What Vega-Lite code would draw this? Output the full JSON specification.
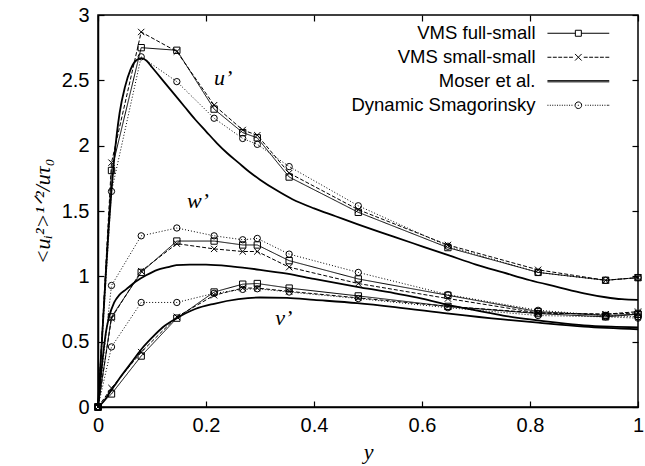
{
  "$schema": "https://vega.github.io/schema/vega-lite/v6.json",
  "autosize": {"type": "none"},
  "width": 540,
  "height": 392,
  "padding": {"left": 98, "top": 15, "right": 7, "bottom": 59},
  "background": "white",
  "config": {
    "view": {"stroke": "black", "strokeWidth": 1.5},
    "axis": {
      "domainColor": "black", "domainWidth": 1.5,
      "tickColor": "black", "tickWidth": 1.2, "tickSize": -6,
      "labelFont": "Liberation Sans", "labelFontSize": 20, "labelColor": "black",
      "grid": false,
      "titleFont": "Liberation Serif", "titleFontStyle": "italic", "titleFontWeight": "normal",
      "titleFontSize": 22, "titleColor": "black"
    }
  },
  "datasets": {
    "sim": [
      {"s":"VMS full-small","c":"u","y":0,"v":0},{"s":"VMS full-small","c":"u","y":0.025,"v":1.81},{"s":"VMS full-small","c":"u","y":0.08,"v":2.75},{"s":"VMS full-small","c":"u","y":0.146,"v":2.73},{"s":"VMS full-small","c":"u","y":0.215,"v":2.28},{"s":"VMS full-small","c":"u","y":0.268,"v":2.10},{"s":"VMS full-small","c":"u","y":0.295,"v":2.06},{"s":"VMS full-small","c":"u","y":0.354,"v":1.76},{"s":"VMS full-small","c":"u","y":0.482,"v":1.49},{"s":"VMS full-small","c":"u","y":0.648,"v":1.22},{"s":"VMS full-small","c":"u","y":0.815,"v":1.03},{"s":"VMS full-small","c":"u","y":0.94,"v":0.97},{"s":"VMS full-small","c":"u","y":1.0,"v":0.99},
      {"s":"VMS full-small","c":"w","y":0,"v":0},{"s":"VMS full-small","c":"w","y":0.025,"v":0.69},{"s":"VMS full-small","c":"w","y":0.08,"v":1.03},{"s":"VMS full-small","c":"w","y":0.146,"v":1.27},{"s":"VMS full-small","c":"w","y":0.215,"v":1.27},{"s":"VMS full-small","c":"w","y":0.268,"v":1.24},{"s":"VMS full-small","c":"w","y":0.295,"v":1.24},{"s":"VMS full-small","c":"w","y":0.354,"v":1.12},{"s":"VMS full-small","c":"w","y":0.482,"v":0.98},{"s":"VMS full-small","c":"w","y":0.648,"v":0.855},{"s":"VMS full-small","c":"w","y":0.815,"v":0.73},{"s":"VMS full-small","c":"w","y":0.94,"v":0.70},{"s":"VMS full-small","c":"w","y":1.0,"v":0.71},
      {"s":"VMS full-small","c":"v","y":0,"v":0},{"s":"VMS full-small","c":"v","y":0.025,"v":0.10},{"s":"VMS full-small","c":"v","y":0.08,"v":0.39},{"s":"VMS full-small","c":"v","y":0.146,"v":0.68},{"s":"VMS full-small","c":"v","y":0.215,"v":0.88},{"s":"VMS full-small","c":"v","y":0.268,"v":0.94},{"s":"VMS full-small","c":"v","y":0.295,"v":0.945},{"s":"VMS full-small","c":"v","y":0.354,"v":0.91},{"s":"VMS full-small","c":"v","y":0.482,"v":0.85},{"s":"VMS full-small","c":"v","y":0.648,"v":0.77},{"s":"VMS full-small","c":"v","y":0.815,"v":0.715},{"s":"VMS full-small","c":"v","y":0.94,"v":0.69},{"s":"VMS full-small","c":"v","y":1.0,"v":0.71},
      {"s":"VMS small-small","c":"u","y":0,"v":0},{"s":"VMS small-small","c":"u","y":0.025,"v":1.87},{"s":"VMS small-small","c":"u","y":0.08,"v":2.87},{"s":"VMS small-small","c":"u","y":0.146,"v":2.72},{"s":"VMS small-small","c":"u","y":0.215,"v":2.31},{"s":"VMS small-small","c":"u","y":0.268,"v":2.12},{"s":"VMS small-small","c":"u","y":0.295,"v":2.08},{"s":"VMS small-small","c":"u","y":0.354,"v":1.79},{"s":"VMS small-small","c":"u","y":0.482,"v":1.51},{"s":"VMS small-small","c":"u","y":0.648,"v":1.24},{"s":"VMS small-small","c":"u","y":0.815,"v":1.05},{"s":"VMS small-small","c":"u","y":0.94,"v":0.97},{"s":"VMS small-small","c":"u","y":1.0,"v":0.99},
      {"s":"VMS small-small","c":"w","y":0,"v":0},{"s":"VMS small-small","c":"w","y":0.025,"v":0.68},{"s":"VMS small-small","c":"w","y":0.08,"v":1.04},{"s":"VMS small-small","c":"w","y":0.146,"v":1.25},{"s":"VMS small-small","c":"w","y":0.215,"v":1.21},{"s":"VMS small-small","c":"w","y":0.268,"v":1.19},{"s":"VMS small-small","c":"w","y":0.295,"v":1.19},{"s":"VMS small-small","c":"w","y":0.354,"v":1.07},{"s":"VMS small-small","c":"w","y":0.482,"v":0.945},{"s":"VMS small-small","c":"w","y":0.648,"v":0.83},{"s":"VMS small-small","c":"w","y":0.815,"v":0.72},{"s":"VMS small-small","c":"w","y":0.94,"v":0.71},{"s":"VMS small-small","c":"w","y":1.0,"v":0.72},
      {"s":"VMS small-small","c":"v","y":0,"v":0},{"s":"VMS small-small","c":"v","y":0.025,"v":0.145},{"s":"VMS small-small","c":"v","y":0.08,"v":0.42},{"s":"VMS small-small","c":"v","y":0.146,"v":0.69},{"s":"VMS small-small","c":"v","y":0.215,"v":0.855},{"s":"VMS small-small","c":"v","y":0.268,"v":0.91},{"s":"VMS small-small","c":"v","y":0.295,"v":0.91},{"s":"VMS small-small","c":"v","y":0.354,"v":0.885},{"s":"VMS small-small","c":"v","y":0.482,"v":0.835},{"s":"VMS small-small","c":"v","y":0.648,"v":0.77},{"s":"VMS small-small","c":"v","y":0.815,"v":0.72},{"s":"VMS small-small","c":"v","y":0.94,"v":0.71},{"s":"VMS small-small","c":"v","y":1.0,"v":0.73},
      {"s":"Dynamic Smagorinsky","c":"u","y":0,"v":0},{"s":"Dynamic Smagorinsky","c":"u","y":0.025,"v":1.65},{"s":"Dynamic Smagorinsky","c":"u","y":0.08,"v":2.68},{"s":"Dynamic Smagorinsky","c":"u","y":0.146,"v":2.49},{"s":"Dynamic Smagorinsky","c":"u","y":0.215,"v":2.21},{"s":"Dynamic Smagorinsky","c":"u","y":0.268,"v":2.055},{"s":"Dynamic Smagorinsky","c":"u","y":0.295,"v":2.01},{"s":"Dynamic Smagorinsky","c":"u","y":0.354,"v":1.84},{"s":"Dynamic Smagorinsky","c":"u","y":0.482,"v":1.54},{"s":"Dynamic Smagorinsky","c":"u","y":0.648,"v":1.23},{"s":"Dynamic Smagorinsky","c":"u","y":0.815,"v":1.03},{"s":"Dynamic Smagorinsky","c":"u","y":0.94,"v":0.97},{"s":"Dynamic Smagorinsky","c":"u","y":1.0,"v":0.99},
      {"s":"Dynamic Smagorinsky","c":"w","y":0,"v":0},{"s":"Dynamic Smagorinsky","c":"w","y":0.025,"v":0.93},{"s":"Dynamic Smagorinsky","c":"w","y":0.08,"v":1.31},{"s":"Dynamic Smagorinsky","c":"w","y":0.146,"v":1.37},{"s":"Dynamic Smagorinsky","c":"w","y":0.215,"v":1.31},{"s":"Dynamic Smagorinsky","c":"w","y":0.268,"v":1.28},{"s":"Dynamic Smagorinsky","c":"w","y":0.295,"v":1.29},{"s":"Dynamic Smagorinsky","c":"w","y":0.354,"v":1.17},{"s":"Dynamic Smagorinsky","c":"w","y":0.482,"v":1.03},{"s":"Dynamic Smagorinsky","c":"w","y":0.648,"v":0.86},{"s":"Dynamic Smagorinsky","c":"w","y":0.815,"v":0.74},{"s":"Dynamic Smagorinsky","c":"w","y":0.94,"v":0.70},{"s":"Dynamic Smagorinsky","c":"w","y":1.0,"v":0.69},
      {"s":"Dynamic Smagorinsky","c":"v","y":0,"v":0},{"s":"Dynamic Smagorinsky","c":"v","y":0.025,"v":0.46},{"s":"Dynamic Smagorinsky","c":"v","y":0.08,"v":0.80},{"s":"Dynamic Smagorinsky","c":"v","y":0.146,"v":0.80},{"s":"Dynamic Smagorinsky","c":"v","y":0.215,"v":0.87},{"s":"Dynamic Smagorinsky","c":"v","y":0.268,"v":0.90},{"s":"Dynamic Smagorinsky","c":"v","y":0.295,"v":0.905},{"s":"Dynamic Smagorinsky","c":"v","y":0.354,"v":0.88},{"s":"Dynamic Smagorinsky","c":"v","y":0.482,"v":0.83},{"s":"Dynamic Smagorinsky","c":"v","y":0.648,"v":0.76},{"s":"Dynamic Smagorinsky","c":"v","y":0.815,"v":0.70},{"s":"Dynamic Smagorinsky","c":"v","y":0.94,"v":0.69},{"s":"Dynamic Smagorinsky","c":"v","y":1.0,"v":0.68}
    ],
    "moser": [
      {"c":"u","y":0,"v":0},{"c":"u","y":0.005,"v":0.35},{"c":"u","y":0.01,"v":0.7},{"c":"u","y":0.015,"v":1.05},{"c":"u","y":0.02,"v":1.38},{"c":"u","y":0.025,"v":1.66},{"c":"u","y":0.03,"v":1.9},{"c":"u","y":0.04,"v":2.25},{"c":"u","y":0.05,"v":2.45},{"c":"u","y":0.06,"v":2.58},{"c":"u","y":0.07,"v":2.65},{"c":"u","y":0.08,"v":2.67},{"c":"u","y":0.09,"v":2.65},{"c":"u","y":0.1,"v":2.6},{"c":"u","y":0.12,"v":2.5},{"c":"u","y":0.14,"v":2.4},{"c":"u","y":0.16,"v":2.3},{"c":"u","y":0.18,"v":2.2},{"c":"u","y":0.2,"v":2.11},{"c":"u","y":0.22,"v":2.02},{"c":"u","y":0.24,"v":1.94},{"c":"u","y":0.26,"v":1.87},{"c":"u","y":0.28,"v":1.8},{"c":"u","y":0.3,"v":1.74},{"c":"u","y":0.33,"v":1.66},{"c":"u","y":0.36,"v":1.59},{"c":"u","y":0.4,"v":1.52},{"c":"u","y":0.44,"v":1.46},{"c":"u","y":0.48,"v":1.4},{"c":"u","y":0.55,"v":1.3},{"c":"u","y":0.6,"v":1.23},{"c":"u","y":0.65,"v":1.16},{"c":"u","y":0.7,"v":1.09},{"c":"u","y":0.75,"v":1.03},{"c":"u","y":0.8,"v":0.97},{"c":"u","y":0.85,"v":0.92},{"c":"u","y":0.9,"v":0.87},{"c":"u","y":0.94,"v":0.84},{"c":"u","y":0.97,"v":0.825},{"c":"u","y":1.0,"v":0.82},
      {"c":"w","y":0,"v":0},{"c":"w","y":0.005,"v":0.22},{"c":"w","y":0.01,"v":0.42},{"c":"w","y":0.015,"v":0.58},{"c":"w","y":0.02,"v":0.68},{"c":"w","y":0.03,"v":0.8},{"c":"w","y":0.04,"v":0.86},{"c":"w","y":0.052,"v":0.9},{"c":"w","y":0.07,"v":0.96},{"c":"w","y":0.09,"v":1.01},{"c":"w","y":0.11,"v":1.05},{"c":"w","y":0.13,"v":1.07},{"c":"w","y":0.145,"v":1.085},{"c":"w","y":0.17,"v":1.09},{"c":"w","y":0.2,"v":1.09},{"c":"w","y":0.25,"v":1.075},{"c":"w","y":0.3,"v":1.05},{"c":"w","y":0.35,"v":1.02},{"c":"w","y":0.4,"v":0.98},{"c":"w","y":0.48,"v":0.92},{"c":"w","y":0.55,"v":0.87},{"c":"w","y":0.6,"v":0.83},{"c":"w","y":0.65,"v":0.78},{"c":"w","y":0.7,"v":0.74},{"c":"w","y":0.75,"v":0.7},{"c":"w","y":0.8,"v":0.67},{"c":"w","y":0.85,"v":0.645},{"c":"w","y":0.9,"v":0.625},{"c":"w","y":0.95,"v":0.615},{"c":"w","y":1.0,"v":0.61},
      {"c":"v","y":0,"v":0},{"c":"v","y":0.01,"v":0.04},{"c":"v","y":0.02,"v":0.1},{"c":"v","y":0.03,"v":0.16},{"c":"v","y":0.04,"v":0.22},{"c":"v","y":0.06,"v":0.33},{"c":"v","y":0.08,"v":0.44},{"c":"v","y":0.1,"v":0.53},{"c":"v","y":0.12,"v":0.61},{"c":"v","y":0.146,"v":0.68},{"c":"v","y":0.18,"v":0.75},{"c":"v","y":0.215,"v":0.79},{"c":"v","y":0.26,"v":0.825},{"c":"v","y":0.3,"v":0.838},{"c":"v","y":0.35,"v":0.835},{"c":"v","y":0.4,"v":0.82},{"c":"v","y":0.48,"v":0.795},{"c":"v","y":0.55,"v":0.765},{"c":"v","y":0.65,"v":0.715},{"c":"v","y":0.75,"v":0.67},{"c":"v","y":0.815,"v":0.645},{"c":"v","y":0.9,"v":0.615},{"c":"v","y":1.0,"v":0.595}
    ],
    "notes": [
      {"t":"u’","y":0.232,"v":2.52},
      {"t":"w’","y":0.185,"v":1.58},
      {"t":"v’","y":0.344,"v":0.68}
    ]
  },
  "layer": [
    {
      "data": {"name": "moser"},
      "mark": {"type": "line", "interpolate": "monotone", "color": "black", "strokeWidth": 1.8},
      "encoding": {
        "x": {"field": "y", "type": "quantitative", "scale": {"domain": [0, 1], "nice": false},
          "axis": {"orient": "bottom", "values": [0, 0.2, 0.4, 0.6, 0.8, 1], "format": "~g", "labelPadding": 14, "labelFlush": false, "title": "y", "titlePadding": 6}},
        "y": {"field": "v", "type": "quantitative", "scale": {"domain": [0, 3], "nice": false},
          "axis": {"orient": "left", "values": [0, 0.5, 1, 1.5, 2, 2.5, 3], "format": "~g", "labelPadding": 15, "labelFlush": false, "title": "<uᵢ²>¹ᐟ²/uτ₀", "titlePadding": 7}},
        "detail": {"field": "c"}
      }
    },
    {
      "data": {"name": "sim"},
      "mark": {"type": "line", "color": "black", "strokeWidth": 1},
      "encoding": {
        "x": {"field": "y", "type": "quantitative", "axis": null},
        "y": {"field": "v", "type": "quantitative", "axis": null},
        "strokeDash": {"field": "s", "type": "nominal", "legend": null,
          "scale": {"domain": ["VMS full-small", "VMS small-small", "Dynamic Smagorinsky"], "range": [[1, 0], [4, 2], [1, 2]]}},
        "detail": {"field": "c"}
      }
    },
    {
      "data": {"name": "sim"},
      "mark": {"type": "point", "filled": false, "color": "black", "strokeWidth": 1, "size": 40, "opacity": 1},
      "encoding": {
        "x": {"field": "y", "type": "quantitative", "axis": null},
        "y": {"field": "v", "type": "quantitative", "axis": null},
        "shape": {"field": "s", "type": "nominal", "legend": null,
          "scale": {"domain": ["VMS full-small", "VMS small-small", "Dynamic Smagorinsky"], "range": ["square", "M-1,-1L1,1M-1,1L1,-1", "circle"]}}
      }
    },
    {
      "data": {"name": "sim"},
      "transform": [{"filter": "datum.v > 100"}],
      "mark": {"type": "point", "filled": false, "color": "black", "strokeWidth": 1, "size": 36, "opacity": 1},
      "encoding": {
        "x": {"field": "y", "type": "quantitative", "axis": null},
        "y": {"field": "v", "type": "quantitative", "axis": null},
        "shape": {"field": "s", "type": "nominal",
          "legend": {
            "title": null, "orient": "top-right", "offset": 9, "padding": 0,
            "labelFont": "Liberation Sans", "labelFontSize": 18.5, "labelColor": "black", "labelLimit": 400,
            "labelAlign": "right", "labelOffset": 190,
            "symbolSize": 36, "symbolStrokeWidth": 1, "symbolStrokeColor": "black", "symbolFillColor": "transparent",
            "rowPadding": 5
          },
          "scale": {"domain": ["VMS full-small", "VMS small-small", "Moser et al.", "Dynamic Smagorinsky"],
            "range": [
              "M70.4,0H79.7M81.7,0H91M79.7,-1H81.7V1H79.7ZM96.7,0",
              "M70.4,0H71.7M72.2,0H73.5M74,0H75.3M75.8,0H77.1M77.6,0H78.9M82.5,0H83.8M84.3,0H85.6M86.1,0H87.4M87.9,0H89.2M89.7,0H91M79.6,-1.1L81.8,1.1M79.6,1.1L81.8,-1.1M96.7,0",
              "M70.4,-0.2H91M70.4,0.2H91M96.7,0",
              "M70.4,0h0.33M71.2,0h0.33M72,0h0.33M72.8,0h0.33M73.6,0h0.33M74.4,0h0.33M75.2,0h0.33M76,0h0.33M76.8,0h0.33M77.6,0h0.33M78.4,0h0.33M83,0h0.33M83.8,0h0.33M84.6,0h0.33M85.4,0h0.33M86.2,0h0.33M87,0h0.33M87.8,0h0.33M88.6,0h0.33M89.4,0h0.33M90.2,0h0.33M90.67,0h0.33M81.8,0A1.1,1.1 0 1,1 79.6,0A1.1,1.1 0 1,1 81.8,0M80.53,0h0.34M96.7,0"
            ]}}
      }
    },
    {
      "data": {"name": "notes"},
      "mark": {"type": "text", "font": "Liberation Serif", "fontStyle": "italic", "fontSize": 22, "color": "black", "align": "center", "baseline": "middle"},
      "encoding": {
        "x": {"field": "y", "type": "quantitative", "axis": {"orient": "top", "values": [0, 0.2, 0.4, 0.6, 0.8, 1], "labels": false, "domain": false, "title": null}},
        "y": {"field": "v", "type": "quantitative", "axis": {"orient": "right", "values": [0, 0.5, 1, 1.5, 2, 2.5, 3], "labels": false, "domain": false, "title": null}},
        "text": {"field": "t"}
      }
    }
  ],
  "resolve": {"scale": {"shape": "independent"}, "legend": {"shape": "independent"}, "axis": {"x": "independent", "y": "independent"}}
}
